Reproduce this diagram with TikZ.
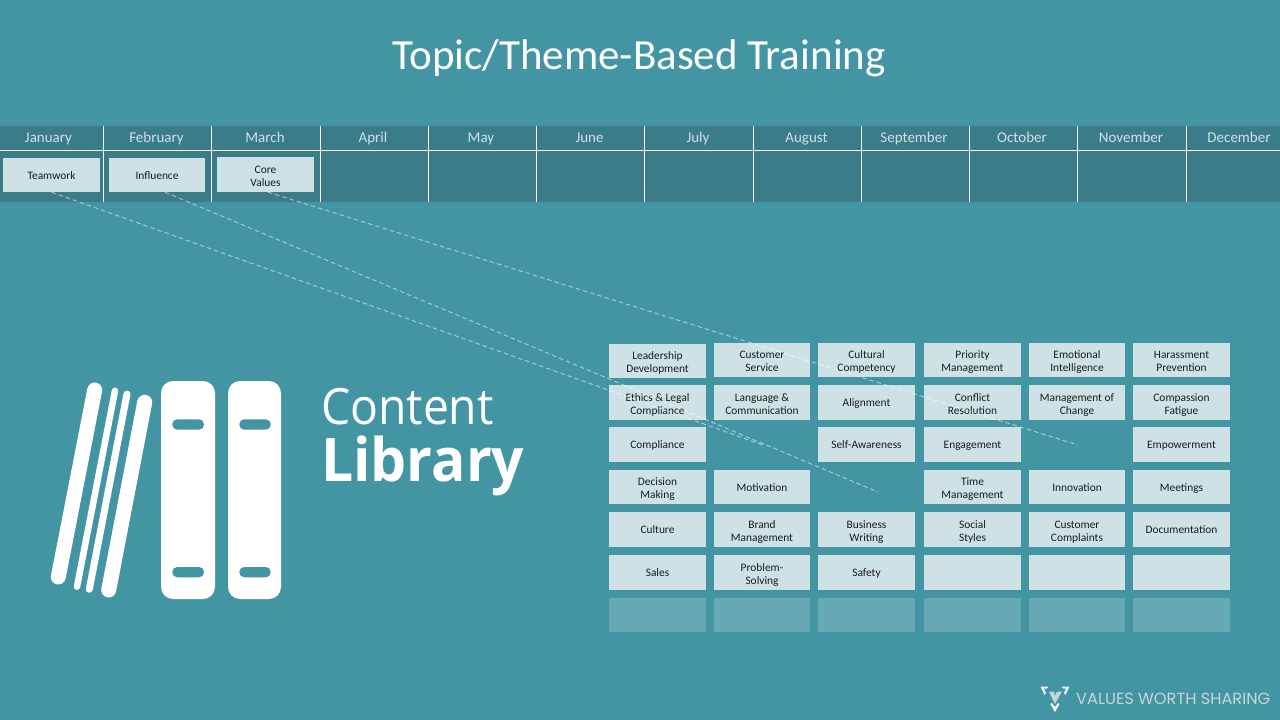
\documentclass[tikz,border=0pt]{standalone}
\usepackage{fontspec}
\setmainfont{Carlito}
\newfontfamily\lightf[FakeBold=-0.35]{Carlito}
\newfontfamily\thinf[FakeBold=-1.1]{Open Sans}
\newfontfamily\heavyf[BoldFont={Open Sans Bold}]{Open Sans}
\definecolor{bgc}{HTML}{4495A3}
\definecolor{band}{HTML}{3A7D89}
\definecolor{cellc}{HTML}{CEE2E6}
\definecolor{fade}{HTML}{66A9B4}
\definecolor{inkc}{HTML}{1A1A1A}
\definecolor{logoc}{HTML}{C6D6D9}
\newcommand{\cstrut}{\rule[-2.7pt]{0pt}{14pt}}
\newcommand{\twol}[2]{\rule{0pt}{13.5pt}#1\\#2}
\tikzset{
 x=1pt,y=-1pt,
 cell/.style={fill=cellc,inner sep=0pt,align=center,text=inkc,font=\fontsize{11.4}{13}\selectfont,anchor=center,execute at begin node=\cstrut,execute at end node=\cstrut},
 ghost/.style={fill=fade,inner sep=0pt,anchor=center},
 month/.style={text=cellc,inner sep=0pt,font=\fontsize{15}{16}\selectfont,anchor=base},
 grid line/.style={draw=white,line width=1pt},
 link/.style={draw=white,line width=0.9pt,dash pattern=on 4.5pt off 3pt,opacity=0.55},
 stick/.style={draw=white,line cap=round},
 slot/.style={fill=bgc,rounded corners=4.9pt},
 binder/.style={fill=white,rounded corners=12pt}
}
\newcommand{\cellat}[7][cell]{\node[#1,minimum width=#5 pt - #3 pt,minimum height=#6 pt - #4 pt] (#2) at ({(#3+#5)/2},{(#4+#6)/2}) {#7};}
\begin{document}
\begin{tikzpicture}
\useasboundingbox (0,0) rectangle (1280,720);
\fill[bgc] (0,0) rectangle (1280,720);
\node[text=white,inner sep=0pt,font=\lightf\fontsize{43}{50}\selectfont] (title) at (639,58) {Topic/Theme-Based Training};
% calendar band
\fill[band] (0,126) rectangle (1280,202);
\draw[grid line] (0,150.5) -- (1280,150.5);
\foreach \x in {103.5,211.5,320.5,428.5,536.5,644.5,753.5,861.5,969.5,1077.5,1186.5}
  \draw[grid line] (\x,126) -- (\x,202);
\foreach \n/\x/\t in {jan/48.5/January,feb/156.5/February,mar/265/March,apr/373/April,may/481/May,jun/589.5/June,jul/698/July,aug/806.5/August,sep/914/September,oct/1022/October,nov/1131/November,dec/1239/December}
  \node[month] (\n) at (\x,142) {\t};
\cellat{teamwork}{3}{158}{100}{192}{Teamwork}
\cellat{influence}{109}{158}{205}{192}{Influence}
\cellat{core}{217}{157}{314}{192}{\twol{Core}{Values}}
% library grid
\cellat{a1}{609}{344}{706}{378}{\twol{Leadership}{Development}}
\cellat{b1}{714}{343}{810}{377}{\twol{Customer}{Service}}
\cellat{c1}{818}{343}{915}{377}{\twol{Cultural}{Competency}}
\cellat{d1}{924}{343}{1021}{377}{\twol{Priority}{Management}}
\cellat{e1}{1029}{343}{1125}{377}{\twol{Emotional}{Intelligence}}
\cellat{f1}{1133}{343}{1230}{377}{\twol{Harassment}{Prevention}}
\cellat{a2}{609}{385}{706}{420}{\twol{Ethics \& Legal}{Compliance}}
\cellat{b2}{714}{385}{810}{420}{\twol{Language \&}{Communication}}
\cellat{c2}{818}{385}{915}{420}{Alignment}
\cellat{d2}{924}{385}{1021}{420}{\twol{Conflict}{Resolution}}
\cellat{e2}{1029}{385}{1125}{420}{\twol{Management of}{Change}}
\cellat{f2}{1133}{385}{1230}{420}{\twol{Compassion}{Fatigue}}
\cellat{a3}{609}{427}{706}{462}{Compliance}
\cellat{c3}{818}{427}{915}{462}{Self-Awareness}
\cellat{d3}{924}{427}{1021}{462}{Engagement}
\cellat{f3}{1133}{427}{1230}{462}{Empowerment}
\cellat{a4}{609}{470}{706}{504}{\twol{Decision}{Making}}
\cellat{b4}{714}{470}{810}{504}{Motivation}
\cellat{d4}{924}{470}{1021}{504}{\twol{Time}{Management}}
\cellat{e4}{1029}{470}{1125}{504}{Innovation}
\cellat{f4}{1133}{470}{1230}{504}{Meetings}
\cellat{a5}{609}{512}{706}{547}{Culture}
\cellat{b5}{714}{512}{810}{547}{\twol{Brand}{Management}}
\cellat{c5}{818}{512}{915}{547}{\twol{Business}{Writing}}
\cellat{d5}{924}{512}{1021}{547}{\twol{Social}{Styles}}
\cellat{e5}{1029}{512}{1125}{547}{\twol{Customer}{Complaints}}
\cellat{f5}{1133}{512}{1230}{547}{Documentation}
\cellat{a6}{609}{555}{706}{590}{Sales}
\cellat{b6}{714}{555}{810}{590}{\twol{Problem-}{Solving}}
\cellat{c6}{818}{555}{915}{590}{Safety}
\cellat{d6}{924}{555}{1021}{590}{}
\cellat{e6}{1029}{555}{1125}{590}{}
\cellat{f6}{1133}{555}{1230}{590}{}
\cellat[ghost]{a7}{609}{598}{706}{632}{}
\cellat[ghost]{b7}{714}{598}{810}{632}{}
\cellat[ghost]{c7}{818}{598}{915}{632}{}
\cellat[ghost]{d7}{924}{598}{1021}{632}{}
\cellat[ghost]{e7}{1029}{598}{1125}{632}{}
\cellat[ghost]{f7}{1133}{598}{1230}{632}{}
% connectors
\coordinate (endA) at (763,445);
\coordinate (endB) at (878,492);
\coordinate (endC) at (1078,445);
\draw[link] (teamwork.south) -- (endA);
\draw[link] ([xshift=8pt]influence.south) -- (endB);
\draw[link] ([xshift=2.5pt]core.south) -- (endC);
% books
\draw[stick,line width=15pt] (94.7,390) -- (58.3,577);
\draw[stick,line width=6.5pt] (115,390.7) -- (77,586.7);
\draw[stick,line width=7pt] (127,394) -- (89.3,589.3);
\draw[stick,line width=15pt] (144.7,402.3) -- (108.7,590);
\fill[binder] (161,381) rectangle (215,599);
\fill[binder] (228,381) rectangle (281,599);
\fill[slot] (172.3,419.3) rectangle (204,429.7);
\fill[slot] (172.3,567) rectangle (204,577.3);
\fill[slot] (239.3,419.3) rectangle (270.7,429.7);
\fill[slot] (239.3,567) rectangle (270.7,577.3);
\node[text=white,inner sep=0pt,anchor=base west,font=\thinf\fontsize{50}{54}\selectfont] (content) at (321,424.5) {\scalebox{0.925}[1]{Content}};
\node[text=white,inner sep=0pt,anchor=base west,font=\heavyf\bfseries\fontsize{60}{62}\selectfont] (library) at (321,481) {\scalebox{0.95}[1]{Library}};
% logo
\fill[logoc!40!white] (1040.5,686.5) -- (1048.5,686.5) -- (1047,688.5) -- (1044,688.5) -- (1046,693) -- (1044.5,695) -- cycle;
\fill[logoc!40!white] (1069.5,686.5) -- (1061.5,686.5) -- (1063,688.5) -- (1066,688.5) -- (1064,693) -- (1065.5,695) -- cycle;
\fill[logoc] (1049,691.5) -- (1054,691.5) -- (1055,696) -- (1057,691.5) -- (1062,691.5) -- (1055,704) -- cycle;
\fill[white] (1050.5,704) -- (1052,703) -- (1055,707) -- (1058,703) -- (1059.5,704) -- (1055,712) -- cycle;
\node[text=logoc,inner sep=0pt,anchor=base west,font=\fontsize{16.2}{18}\selectfont] (brand) at (1076,704.5) {\fontspec{Poppins}VALUES WORTH SHARING};
\end{tikzpicture}
\end{document}
